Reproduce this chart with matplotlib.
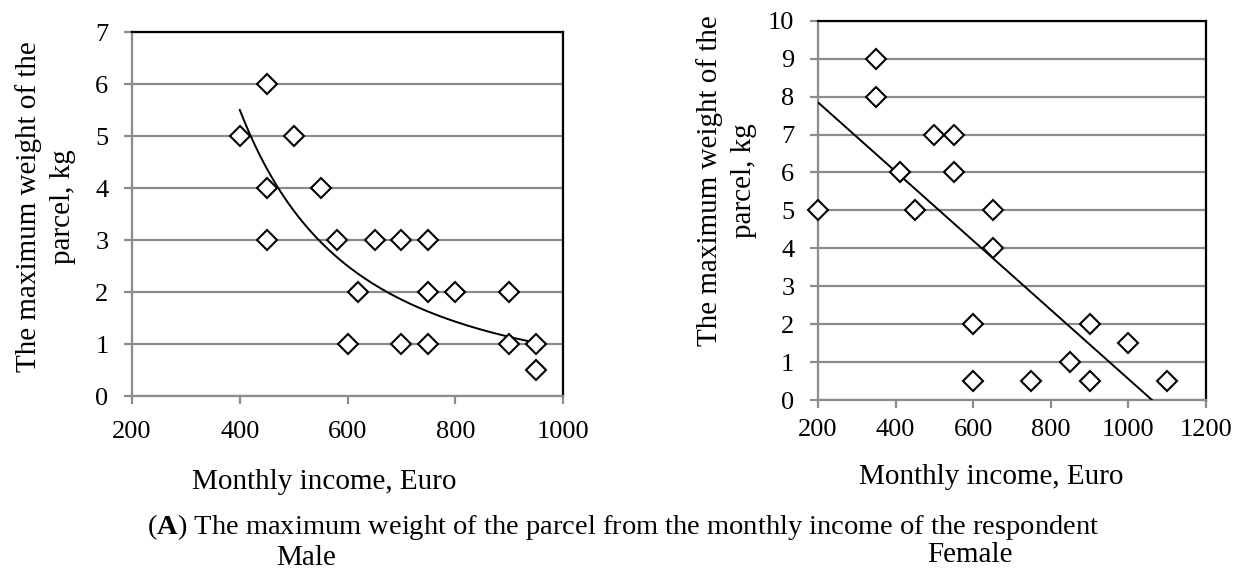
import numpy as np
import matplotlib
matplotlib.use('Agg')
import matplotlib.pyplot as plt

plt.rcParams['font.family'] = ['Liberation Serif', 'DejaVu Serif']
plt.rcParams['mathtext.fontset'] = 'custom'
plt.rcParams['mathtext.rm'] = 'Liberation Serif'
plt.rcParams['mathtext.bf'] = 'Liberation Serif:bold'

# данные: мужчины
male_income = [400, 450, 450, 450, 500, 550, 580, 600, 620, 650, 700, 700,
               750, 750, 750, 800, 900, 900, 950, 950]
male_weight = [5, 6, 4, 3, 5, 4, 3, 1, 2, 3, 3, 1,
               3, 1, 2, 2, 2, 1, 1, 0.5]

# данные: женщины
female_income = [200, 350, 350, 410, 450, 500, 550, 550, 600, 600, 650, 650,
                 750, 850, 900, 900, 1000, 1100]
female_weight = [5, 9, 8, 6, 5, 7, 7, 6, 2, 0.5, 5, 4,
                 0.5, 1, 2, 0.5, 1.5, 0.5]

male_xticks = [200, 400, 600, 800, 1000]
male_yticks = [0, 1, 2, 3, 4, 5, 6, 7]
female_xticks = [200, 400, 600, 800, 1000, 1200]
female_yticks = list(range(0, 11))

ylabel = 'The maximum weight of the\nparcel, kg'
xlabel = 'Monthly income, Euro'
caption = 'The maximum weight of the parcel from the monthly income of the respondent'

fig = plt.figure(figsize=(12.4, 5.69), dpi=100)
ax1 = fig.add_axes([0.1065, 0.304, 0.3476, 0.6397])
ax2 = fig.add_axes([0.6597, 0.297, 0.3129, 0.6666])


def style(ax, xticks, yticks, xpad):
    ax.set_xlim(xticks[0], xticks[-1])
    ax.set_ylim(yticks[0], yticks[-1])
    ax.set_xticks(xticks)
    ax.set_yticks(yticks)
    ax.grid(axis='y', color='#8c8c8c', linewidth=1.6)
    ax.set_axisbelow(True)
    for s in ['left', 'bottom']:
        ax.spines[s].set_color('#8c8c8c')
        ax.spines[s].set_linewidth(1.6)
    for s in ['top', 'right']:
        ax.spines[s].set_color('black')
        ax.spines[s].set_linewidth(1.6)
    ax.tick_params(direction='out', length=6, width=1.6, color='#8c8c8c',
                   labelsize=19)
    ax.tick_params(axis='x', pad=xpad)
    ax.tick_params(axis='y', pad=11)


style(ax1, male_xticks, male_yticks, 12)
style(ax2, female_xticks, female_yticks, 7.5)

# мужчины: степенная линия тренда
mx = np.array(male_income, dtype=float)
my = np.array(male_weight, dtype=float)
b, lna = np.polyfit(np.log(mx), np.log(my), 1)
xx = np.linspace(mx.min(), mx.max(), 200)
ax1.plot(xx, np.exp(lna) * xx ** b, color='black', linewidth=1.4, zorder=3)
ax1.plot(mx, my, linestyle='none', marker='D', markersize=10.5,
         markerfacecolor='white', markeredgecolor='black',
         markeredgewidth=1.5, clip_on=False, zorder=4)

# женщины: линейная линия тренда
fx = np.array(female_income, dtype=float)
fy = np.array(female_weight, dtype=float)
k, c = np.polyfit(fx, fy, 1)
xx2 = np.linspace(fx.min(), fx.max(), 200)
ax2.plot(xx2, k * xx2 + c, color='black', linewidth=1.4, zorder=3)
ax2.plot(fx, fy, linestyle='none', marker='D', markersize=10.5,
         markerfacecolor='white', markeredgecolor='black',
         markeredgewidth=1.5, clip_on=False, zorder=4)

# подписи осей
fig.text(46 / 1240, 1 - 207 / 569, ylabel, rotation=90, ha='center',
         va='center', fontsize=21, multialignment='center', linespacing=1.4)
fig.text(727 / 1240, 1 - 181 / 569, ylabel, rotation=90, ha='center',
         va='center', fontsize=21, multialignment='center', linespacing=1.4)
fig.text(324.5 / 1240, 1 - 482 / 569, xlabel, ha='center', va='center',
         fontsize=21)
fig.text(991.5 / 1240, 1 - 477 / 569, xlabel, ha='center', va='center',
         fontsize=21)

fig.text(623 / 1240, 1 - 527 / 569, r'($\mathbf{A}$) ' + caption,
         ha='center', va='center', fontsize=20.5)
fig.text(306 / 1240, 1 - 558 / 569, 'Male', ha='center', va='center',
         fontsize=21)
fig.text(970 / 1240, 1 - 555 / 569, 'Female', ha='center', va='center',
         fontsize=21)

fig.savefig('out.png', dpi=100)
